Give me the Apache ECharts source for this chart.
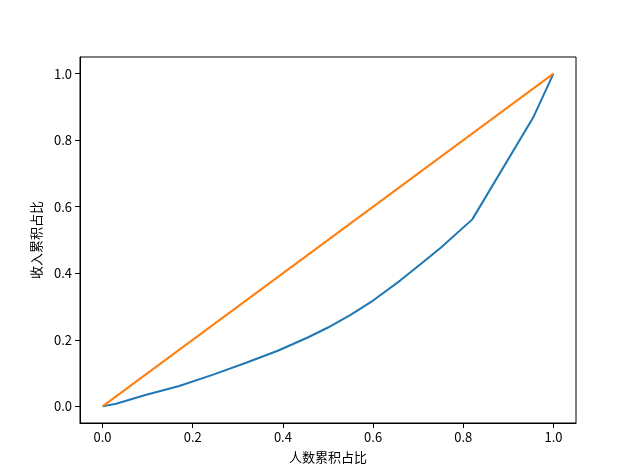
<!DOCTYPE html>
<html>
<head>
<meta charset="utf-8">
<script src="https://cdn.jsdelivr.net/npm/echarts@6/dist/echarts.min.js"></script>
<style>
  html, body { margin: 0; padding: 0; background: #fff; }
  #chart { width: 640px; height: 476px; }
</style>
</head>
<body>
<div id="chart"></div>
<script>
// 洛伦兹曲线数据
const popShare = [0, 0.03, 0.095, 0.17, 0.247, 0.32, 0.39, 0.455, 0.5, 0.55, 0.6, 0.66, 0.705, 0.75, 0.82, 0.955, 1.0];
const incomeShare = [0, 0.008, 0.034, 0.061, 0.096, 0.132, 0.168, 0.207, 0.237, 0.275, 0.318, 0.378, 0.427, 0.477, 0.562, 0.868, 1.0];
const equalX = [0, 1];
const equalY = [0, 1];
const tickValues = [0, 0.2, 0.4, 0.6, 0.8, 1.0];

const font = 'SimHei, "Noto Sans CJK SC", sans-serif';

let chart = echarts.init(document.getElementById('chart'));

function axisCommon() {
  return {
    type: 'value',
    min: -0.05,
    max: 1.05,
    nameLocation: 'middle',
    nameTextStyle: { fontFamily: font, fontSize: 13, color: '#000' },
    axisLine: { show: true, onZero: false, lineStyle: { color: '#000', width: 1 } },
    axisTick: { show: true, inside: false, length: 5, customValues: tickValues, lineStyle: { color: '#000' } },
    axisLabel: {
      customValues: tickValues,
      margin: 8,
      fontFamily: font,
      fontSize: 13,
      color: '#000',
      formatter: v => v.toFixed(1)
    },
    splitLine: { show: false }
  };
}

let xAxis = axisCommon();
xAxis.name = '人数累积占比';
xAxis.nameGap = 28;

let yAxis = axisCommon();
yAxis.name = '收入累积占比';
yAxis.nameGap = 34;

let option = {
  backgroundColor: '#fff',
  animation: false,
  grid: {
    left: 80,
    right: 64,
    top: 57,
    bottom: 53,
    show: true,
    borderColor: '#000',
    borderWidth: 1
  },
  xAxis: xAxis,
  yAxis: yAxis,
  series: [
    {
      name: '收入',
      type: 'line',
      data: popShare.map((x, i) => [x, incomeShare[i]]),
      showSymbol: false,
      lineStyle: { color: '#1f77b4', width: 2 }
    },
    {
      name: '绝对平均',
      type: 'line',
      data: equalX.map((x, i) => [x, equalY[i]]),
      showSymbol: false,
      lineStyle: { color: '#ff7f0e', width: 2 }
    }
  ]
};

chart.setOption(option);
</script>
</body>
</html>
